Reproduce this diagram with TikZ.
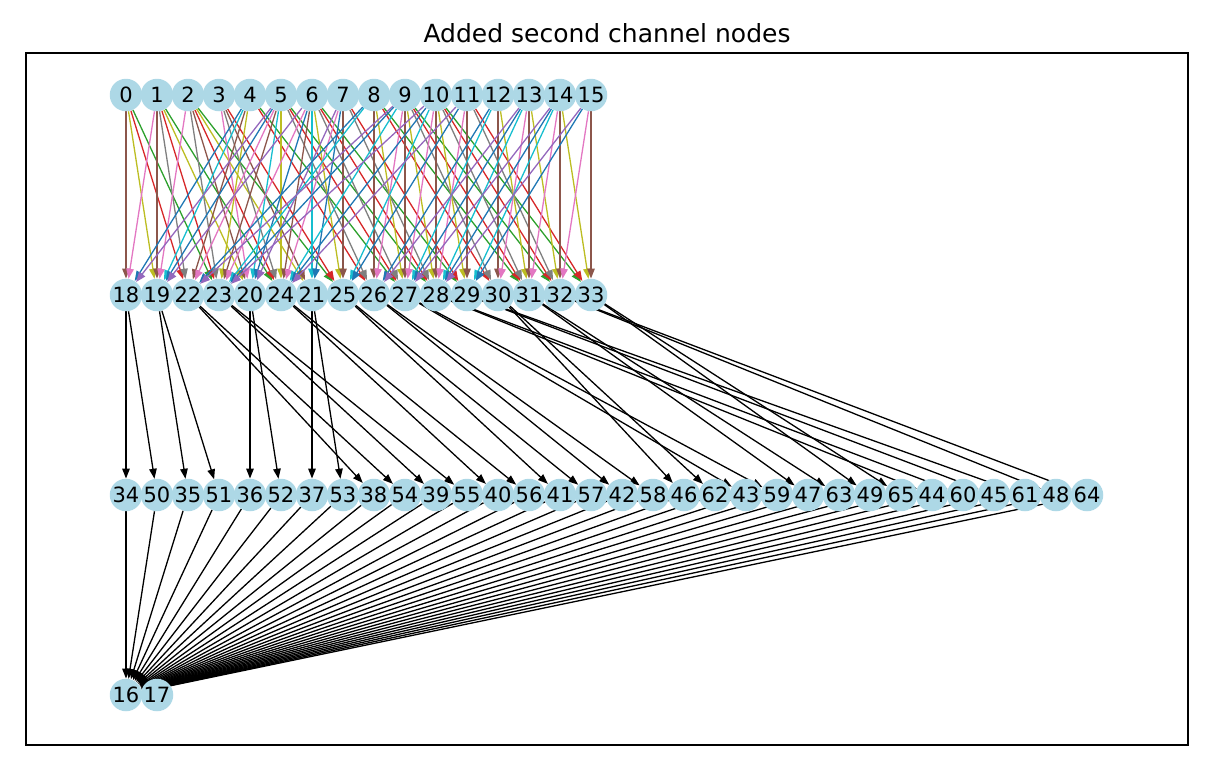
\documentclass[tikz,border=0pt]{standalone}
\usepackage{fontspec}
\setmainfont{DejaVu Sans}
\usetikzlibrary{arrows.meta}
\pgfdeclarelayer{edges}
\pgfsetlayers{edges,main}
\definecolor{nodeblue}{HTML}{ADD8E6}
% edge colours by kernel offset (row, column)
\definecolor{ecol0}{HTML}{9467BD}
\definecolor{ecol1}{HTML}{1F77B4}
\definecolor{ecol2}{HTML}{17BECF}
\definecolor{ecol3}{HTML}{E377C2}
\definecolor{ecol4}{HTML}{8C564B}
\definecolor{ecol5}{HTML}{BCBD22}
\definecolor{ecol6}{HTML}{7F7F7F}
\definecolor{ecol7}{HTML}{D62728}
\definecolor{ecol8}{HTML}{2CA02C}
\tikzset{neuron/.style={circle,fill=nodeblue,minimum size=32.5pt,inner sep=0pt,font=\fontsize{21}{25}\selectfont},link/.style={line width=1.3pt,-{Triangle[length=10pt,width=7.5pt]}}}
\newcommand{\nlabel}[1]{\makebox[0pt]{#1}}

\begin{document}
\begin{tikzpicture}[x=1pt,y=-1pt]
\useasboundingbox (0,0) rectangle (1213,766);
\draw[line width=1.1pt] (26,53) rectangle (1188,745);
\node[font=\fontsize{25}{30}\selectfont] (title) at (607,33) {Added second channel nodes};
% input layer
\foreach \v in {0,...,15}
  \node[neuron] (n\v) at (126+31*\v,95) {\nlabel{\v}};
% first channel
\foreach \v [count=\i from 0] in {18,19,22,23,20,24,21,25,26,27,28,29,30,31,32,33}
  \node[neuron] (n\v) at (126+31*\i,295) {\nlabel{\v}};
% second channel
\foreach \v [count=\i from 0] in {34,50,35,51,36,52,37,53,38,54,39,55,40,56,41,57,42,58,46,62,43,59,47,63,49,65,44,60,45,61,48,64}
  \node[neuron] (n\v) at (126+31*\i,495) {\nlabel{\v}};
% outputs
\node[neuron] (n16) at (126,695) {\nlabel{16}};
\node[neuron] (n17) at (157,695) {\nlabel{17}};

\begin{pgfonlayer}{edges}
% 3x3 neighbourhood from inputs to first channel
\foreach \s in {0,...,15}{
  \pgfmathtruncatemacro\srow{div(\s,4)}
  \pgfmathtruncatemacro\scol{mod(\s,4)}
  \foreach \dr in {-1,0,1}{
    \foreach \dc in {-1,0,1}{
      \pgfmathtruncatemacro\trow{\srow+\dr}
      \pgfmathtruncatemacro\tcol{\scol+\dc}
      \pgfmathtruncatemacro\ok{(\trow>=0)&&(\trow<4)&&(\tcol>=0)&&(\tcol<4)}
      \ifnum\ok=1
        \pgfmathtruncatemacro\tgt{18+4*\trow+\tcol}
        \pgfmathtruncatemacro\kid{3*(\dr+1)+\dc+1}
        \draw[link,ecol\kid] (n\s) -- (n\tgt);
      \fi
    }
  }
}
% first channel to second channel
\foreach \s in {18,...,33}{
  \pgfmathtruncatemacro\ta{\s+16}
  \pgfmathtruncatemacro\tb{\s+32}
  \draw[link] (n\s) -- (n\ta);
  \draw[link] (n\s) -- (n\tb);
}
% second channel to output
\foreach \s in {34,...,65}
  \draw[link] (n\s) -- (n16);
\end{pgfonlayer}
\end{tikzpicture}
\end{document}
